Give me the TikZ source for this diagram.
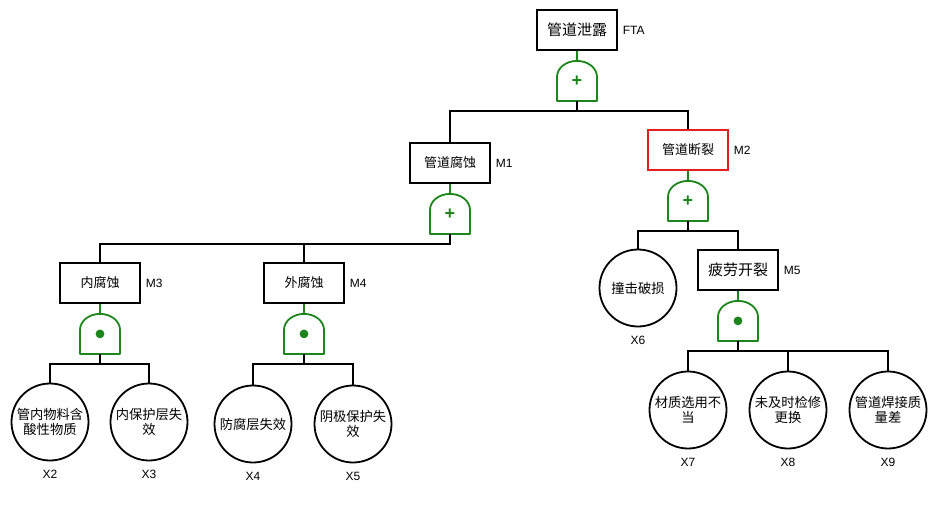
\documentclass[tikz,border=0pt]{standalone}
\usepackage{fontspec}
\setmainfont{Noto Sans CJK SC}
\newfontfamily\latinfont{Liberation Sans}
\usetikzlibrary{positioning}
\definecolor{gtgreen}{RGB}{28,134,28}
\definecolor{brkred}{RGB}{228,30,30}
\begin{document}
\begin{tikzpicture}[x=1pt,y=-1pt,line width=1.8pt]
  \tikzset{evtbox/.style={draw,rectangle,minimum width=80pt,minimum height=40pt,inner sep=0pt,font=\fontsize{13}{15}\selectfont},
    bsc/.style={draw,circle,minimum size=77pt,inner sep=0pt,align=center,font=\fontsize{13.3}{15}\selectfont},
    gt/.style={minimum width=40pt,minimum height=40pt,inner sep=0pt,outer sep=0pt,text=gtgreen,font=\latinfont\bfseries\fontsize{18}{18}\selectfont},
    tg/.style={inner sep=0pt,font=\latinfont\fontsize{12}{12}\selectfont},
    rtag/.style={label={[tg,label distance=4pt]right:#1}},
    btag/.style={label={[tg,label distance=8pt]below:#1}},
    stem/.style={draw=gtgreen},
    lnk/.style={draw=black}}
  \useasboundingbox (0,0) rectangle (938,525);
  \node(top)[evtbox,rtag=FTA,font=\fontsize{15}{17}\selectfont] at (577,30){管道泄露};
  \node(m1)[evtbox,rtag=M1] at (450,163){管道腐蚀};
  \node(m2)[evtbox,rtag=M2,draw=brkred] at (688,150){管道断裂};
  \node(m3)[evtbox,rtag=M3] at (100,283){内腐蚀};
  \node(m4)[evtbox,rtag=M4] at (304,283){外腐蚀};
  \node(m5)[evtbox,rtag=M5,font=\fontsize{15}{17}\selectfont] at (738,270){疲劳开裂};
  \node(x2)[bsc,btag=X2] at (50,422){管内物料含\\酸性物质};
  \node(x3)[bsc,btag=X3] at (149,422){内保护层失\\效};
  \node(x4)[bsc,btag=X4] at (253,424){防腐层失效};
  \node(x5)[bsc,btag=X5] at (353,424){阴极保护失\\效};
  \node(x6)[bsc,btag=X6] at (638,288){撞击破损};
  \node(x7)[bsc,btag=X7] at (688,410){材质选用不\\当};
  \node(x8)[bsc,btag=X8] at (788,410){未及时检修\\更换};
  \node(x9)[bsc,btag=X9] at (888,410){管道焊接质\\量差};
  \foreach\ev[count=\i from 0] in {top,m1,m2}{\node(g\i)[gt,below=10pt of \ev]{+};}
  \foreach\ev[count=\i from 3] in {m3,m4,m5}{\node(g\i)[gt,below=10pt of \ev]{};
    \fill[gtgreen] (g\i) circle[radius=4.4pt];}
  \foreach\ev[count=\i from 0] in {top,m1,m2,m3,m4,m5}{\draw[stem] (\ev.south) -- (g\i.north);
    \draw[gtgreen,line join=round] (g\i.south west) -- ([yshift=24pt]g\i.south west)
      arc[start angle=180,end angle=0,x radius=20pt,y radius=16pt] -- (g\i.south east) -- cycle;}
  \foreach\g/\ch in {g0/m1,g0/m2,g1/m3,g1/m4,g2/x6,g2/m5,g3/x2,g3/x3,g4/x4,g4/x5,g5/x7,g5/x8,g5/x9}
    {\draw[lnk] (\g.south) -- ++(0,10) -| (\ch.north);}
\end{tikzpicture}
\end{document}
